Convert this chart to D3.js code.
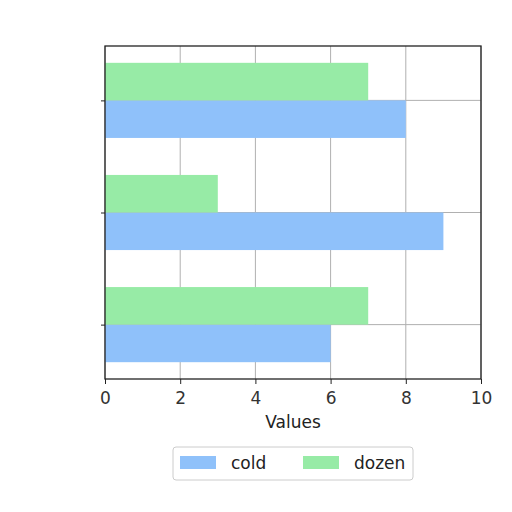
<!DOCTYPE html>
<html>
<head>
<meta charset="utf-8">
<script src="https://cdn.jsdelivr.net/npm/d3@7"></script>
<style>
  body { margin: 0; background: #fff; }
  text { font-family: "DejaVu Sans", sans-serif; }
</style>
</head>
<body>
<div id="chart"></div>
<script>
// DATA
const categories = ["A", "B", "C"];
const series = ["cold", "dozen"];
const coldValues = [6, 9, 8];
const dozenValues = [7, 3, 7];
const xTicks = [0, 2, 4, 6, 8, 10];

const width = 512, height = 512,
  margin = { top: 46, right: 31, bottom: 133, left: 105 },
  barH = 0.335,
  fontSize = 17,
  colors = { cold: "#8fc1fa", dozen: "#97eba6" };

const svg = d3.select("#chart").append("svg")
  .attr("width", width)
  .attr("height", height);

const xScale = d3.scaleLinear()
  .domain([0, 10])
  .range([margin.left, width - margin.right]);

const yScale = d3.scaleLinear()
  .domain([-0.485, categories.length - 1 + 0.485])
  .range([height - margin.bottom, margin.top]);

// grid
svg.append("g")
  .selectAll("line.vgrid")
  .data(xTicks)
  .join("line")
  .attr("x1", d => xScale(d)).attr("x2", d => xScale(d))
  .attr("y1", margin.top).attr("y2", height - margin.bottom)
  .attr("stroke", "#b0b0b0").attr("stroke-width", 1);

svg.append("g")
  .selectAll("line.hgrid")
  .data(categories.map((d, i) => i))
  .join("line")
  .attr("x1", margin.left).attr("x2", width - margin.right)
  .attr("y1", d => yScale(d)).attr("y2", d => yScale(d))
  .attr("stroke", "#b0b0b0").attr("stroke-width", 1);

// bars
const rows = categories.map((c, i) => ({ i, cold: coldValues[i], dozen: dozenValues[i] }));

svg.append("g")
  .selectAll("rect.cold")
  .data(rows)
  .join("rect")
  .attr("x", xScale(0))
  .attr("y", d => yScale(d.i))
  .attr("width", d => xScale(d.cold) - xScale(0))
  .attr("height", d => yScale(d.i - barH) - yScale(d.i))
  .attr("fill", colors.cold);

svg.append("g")
  .selectAll("rect.dozen")
  .data(rows)
  .join("rect")
  .attr("x", xScale(0))
  .attr("y", d => yScale(d.i + barH))
  .attr("width", d => xScale(d.dozen) - xScale(0))
  .attr("height", d => yScale(d.i) - yScale(d.i + barH))
  .attr("fill", colors.dozen);

// frame
svg.append("rect")
  .attr("x", margin.left).attr("y", margin.top)
  .attr("width", width - margin.right - margin.left)
  .attr("height", height - margin.bottom - margin.top)
  .attr("fill", "none").attr("stroke", "#222").attr("stroke-width", 1.3);

// axes
const xAxis = svg.append("g")
  .attr("transform", `translate(0,${height - margin.bottom})`)
  .call(d3.axisBottom(xScale).tickValues(xTicks).tickSize(5).tickPadding(8).tickFormat(d3.format("d")));
xAxis.select(".domain").remove();
xAxis.selectAll("text").attr("font-size", fontSize).attr("fill", "#333").attr("font-family", "DejaVu Sans");
xAxis.selectAll("line").attr("stroke", "#222");

const yAxis = svg.append("g")
  .attr("transform", `translate(${margin.left},0)`)
  .call(d3.axisLeft(yScale).tickValues(categories.map((d, i) => i)).tickSize(4).tickFormat(""));
yAxis.select(".domain").remove();
yAxis.selectAll("line").attr("stroke", "#222");

svg.append("text")
  .attr("x", (margin.left + width - margin.right) / 2)
  .attr("y", 428)
  .attr("text-anchor", "middle")
  .attr("font-size", fontSize)
  .attr("fill", "#222")
  .text("Values");

// legend
const legend = svg.append("g").attr("transform", "translate(173,447)");
legend.append("rect")
  .attr("width", 240).attr("height", 33).attr("rx", 3)
  .attr("fill", "#fff").attr("stroke", "#ccc");
const item = legend.selectAll("g.item")
  .data(series)
  .join("g")
  .attr("transform", (d, i) => `translate(${7 + i * 123},9)`);
item.append("rect")
  .attr("width", 36).attr("height", 13)
  .attr("fill", d => colors[d]);
item.append("text")
  .attr("x", 51).attr("y", 13)
  .attr("font-size", fontSize).attr("fill", "#222")
  .text(d => d);
</script>
</body>
</html>
